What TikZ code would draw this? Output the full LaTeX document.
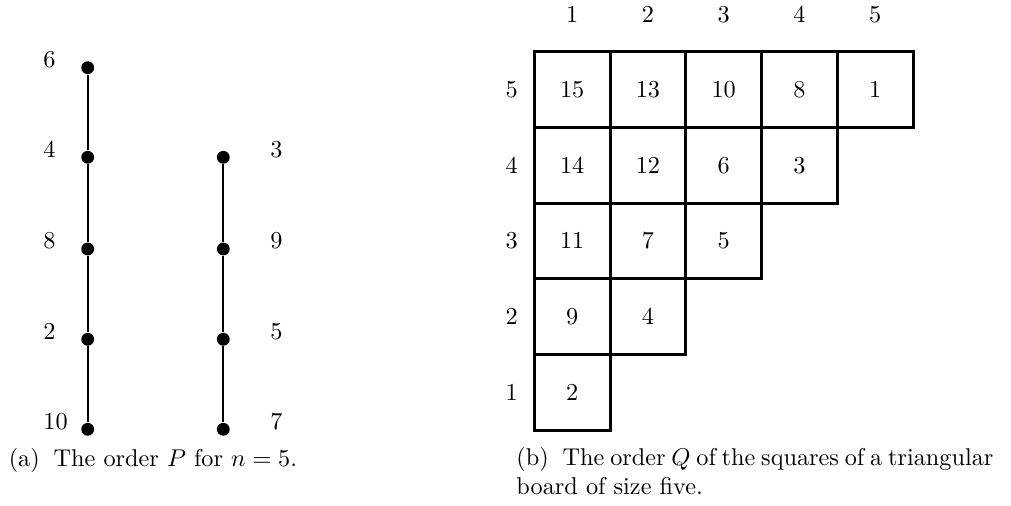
\documentclass[tikz,border=0pt]{standalone}
\usepackage{amsmath,amssymb}
\usepackage{tikz}
\usetikzlibrary{positioning}
\tikzset{dot/.style={circle,fill,inner sep=0pt,minimum size=5.3pt},
         chain/.style={line width=0.8pt},
         cell/.style={draw,line width=1.2pt,minimum size=31.2pt,inner sep=0pt},
         lbl/.style={inner sep=0pt}}

\begin{document}
\begin{tikzpicture}[x=0.412pt,y=-0.412pt]
\useasboundingbox (0,0) rectangle (1011,506);
% the order P: two chains
\foreach \v/\y in {6/67.7,4/157.3,8/249,2/339.3,10/429.3}{
  \node[dot] (p\v) at (87.7,\y) {};
  \node[lbl,anchor=base west] (lp\v) at (43,\y) {$\v$};
}
\foreach \v/\y in {3/157.3,9/249,5/339.3,7/429.3}{
  \node[dot] (p\v) at (223.3,\y) {};
  \node[lbl,anchor=base west] (lp\v) at (270,\y) {$\v$};
}
\draw[chain] (p6)--(p4)--(p8)--(p2)--(p10);
\draw[chain] (p3)--(p9)--(p5)--(p7);
\node[lbl,anchor=base west] (capa) at (8.3,467) {(a)\hspace{5.7pt}The order $P$ for $n=5$.};
% the board Q, row 5 on top
\foreach \r/\vals in {5/{15,13,10,8,1},4/{14,12,6,3},3/{11,7,5},2/{9,4},1/{2}}{
  \node[lbl] (row\r) at (511.7,{51.7+75.75*(5.5-\r)}) {$\r$};
  \foreach \v [count=\c] in \vals
    \node[cell] (q\c\r) at ({534.3+75.75*(\c-0.5)},{51.7+75.75*(5.5-\r)}) {$\v$};
}
\foreach \c in {1,...,5}
  \node[lbl] (col\c) at ({534.3+75.75*(\c-0.5)},15) {$\c$};
\node[lbl,anchor=base west,align=left] (capb) at (516,495)
  {\makebox[196.5pt][s]{(b)\hspace{5.7pt}The order $Q$ of the squares of a triangular}\\board of size five.};
\end{tikzpicture}
\end{document}
